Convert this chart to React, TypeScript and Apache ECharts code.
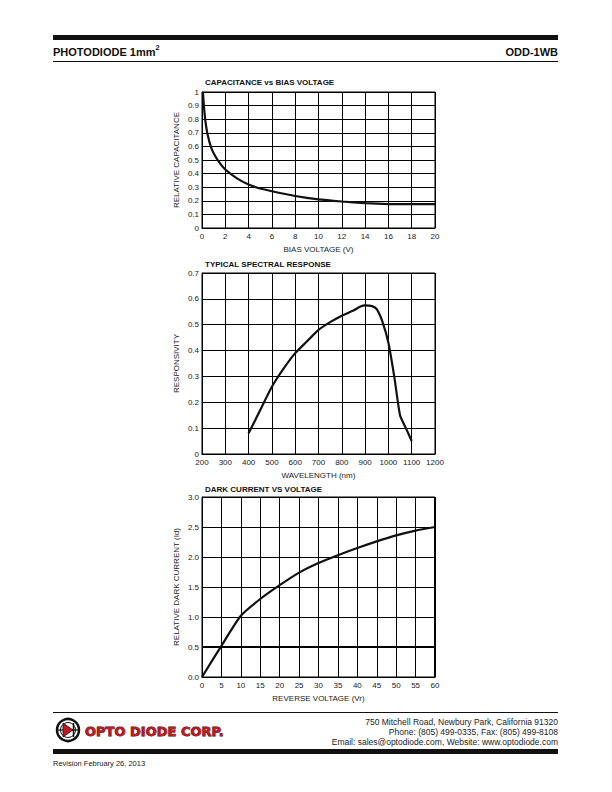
import React, { useEffect, useRef } from "react";
import * as echarts from "echarts";

// Capacitance vs bias voltage
const capX = [0.08, 0.2, 0.35, 0.5, 0.75, 1, 1.5, 2, 3, 4, 5, 6, 8, 10, 12, 14, 16, 18, 20];
const capY = [1.0, 0.86, 0.75, 0.68, 0.6, 0.55, 0.48, 0.43, 0.365, 0.32, 0.29, 0.27, 0.235, 0.21, 0.195, 0.183, 0.176, 0.175, 0.175];

// Spectral response
const specX = [400, 450, 500, 550, 600, 650, 700, 750, 800, 850, 880, 900, 930, 950, 975, 1000, 1025, 1050, 1075, 1100];
const specY = [0.08, 0.17, 0.26, 0.33, 0.39, 0.435, 0.48, 0.51, 0.535, 0.555, 0.57, 0.575, 0.572, 0.56, 0.51, 0.43, 0.3, 0.15, 0.1, 0.05];

// Dark current vs reverse voltage
const darkX = [0, 5, 10, 15, 20, 25, 30, 35, 40, 45, 50, 55, 60];
const darkY = [0, 0.52, 1.02, 1.3, 1.53, 1.74, 1.9, 2.03, 2.15, 2.26, 2.36, 2.44, 2.5];

const titles = ["CAPACITANCE vs BIAS VOLTAGE", "TYPICAL SPECTRAL RESPONSE", "DARK CURRENT VS VOLTAGE"];
const xNames = ["BIAS VOLTAGE (V)", "WAVELENGTH (nm)", "REVERSE VOLTAGE (Vr)"];
const yNames = ["RELATIVE CAPACITANCE", "RESPONSIVITY", "RELATIVE DARK CURRENT (Id)"];
const addressLines = [
  "750 Mitchell Road, Newbury Park, California 91320",
  "Phone: (805) 499-0335, Fax: (805) 499-8108",
  "Email: sales@optodiode.com, Website: www.optodiode.com",
];

const FONT = "'Liberation Sans', Arial, sans-serif";

export default function App() {
  const ref = useRef<HTMLDivElement>(null);
  useEffect(() => {
    if (!ref.current) return;
    const chart = echarts.init(ref.current, null, { renderer: "svg" });
    const grids = [
      { left: 202, top: 92, width: 233, height: 136 },
      { left: 202, top: 273, width: 233, height: 181 },
      { left: 202, top: 497, width: 233, height: 180 },
    ];
    const xCfg = [
      { min: 0, max: 20, interval: 2, fmt: (v: number) => String(v) },
      { min: 200, max: 1200, interval: 100, fmt: (v: number) => String(v) },
      { min: 0, max: 60, interval: 5, fmt: (v: number) => String(v) },
    ];
    const yCfg = [
      { min: 0, max: 1, interval: 0.1, fmt: (v: number) => String(Math.round(v * 10) / 10) },
      { min: 0, max: 0.7, interval: 0.1, fmt: (v: number) => String(Math.round(v * 10) / 10) },
      { min: 0, max: 3, interval: 0.5, fmt: (v: number) => v.toFixed(1) },
    ];
    const datas = [
      capX.map((x, i) => [x, capY[i]]),
      specX.map((x, i) => [x, specY[i]]),
      darkX.map((x, i) => [x, darkY[i]]),
    ];
    const labelStyle = { color: "#222", fontSize: 8, fontFamily: FONT };
    const option: any = {
      animation: false,
      backgroundColor: "#fff",
      grid: grids.map((g) => ({ ...g, show: true, borderColor: "#000", borderWidth: 1, containLabel: false })),
      xAxis: xCfg.map((c, i) => ({
        type: "value",
        gridIndex: i,
        min: c.min,
        max: c.max,
        interval: c.interval,
        name: xNames[i],
        nameLocation: "middle",
        nameGap: 17,
        nameTextStyle: { color: "#222", fontSize: 8, fontFamily: FONT },
        axisLine: { show: true, lineStyle: { color: "#000", width: 1 } },
        axisTick: { show: false },
        axisLabel: { ...labelStyle, margin: 4, formatter: c.fmt },
        splitLine: { show: true, lineStyle: { color: "#000", width: 1 } },
      })),
      yAxis: yCfg.map((c, i) => ({
        type: "value",
        gridIndex: i,
        min: c.min,
        max: c.max,
        interval: c.interval,
        name: yNames[i],
        nameLocation: "middle",
        nameGap: 22,
        nameTextStyle: { color: "#222", fontSize: 8, fontFamily: FONT },
        axisLine: { show: true, lineStyle: { color: "#000", width: 1 } },
        axisTick: { show: false },
        axisLabel: { ...labelStyle, margin: 3, formatter: c.fmt },
        splitLine: { show: true, lineStyle: { color: "#000", width: 1 } },
      })),
      series: datas.map((d, i) => ({
        type: "line",
        xAxisIndex: i,
        yAxisIndex: i,
        data: d,
        showSymbol: false,
        smooth: 0.2,
        lineStyle: { color: "#111", width: 2.2 },
        markLine:
          i === 2
            ? {
                silent: true,
                symbol: "none",
                label: { show: false },
                lineStyle: { color: "#000", width: 2, type: "solid" },
                data: [{ yAxis: 0.5 }, { xAxis: 60 }],
              }
            : undefined,
      })),
      graphic: [
        // header
        { type: "rect", shape: { x: 53, y: 35, width: 505, height: 5 }, style: { fill: "#111" } },
        { type: "text", x: 53, y: 52, style: { text: "PHOTODIODE 1mm", fill: "#111", font: `bold 11px ${FONT}`, textVerticalAlign: "middle" } },
        { type: "text", x: 155.5, y: 47, style: { text: "2", fill: "#111", font: `bold 7.5px ${FONT}`, textVerticalAlign: "middle" } },
        { type: "text", x: 558, y: 52, style: { text: "ODD-1WB", fill: "#111", font: `bold 11px ${FONT}`, textAlign: "right", textVerticalAlign: "middle" } },
        { type: "line", shape: { x1: 53, y1: 61.5, x2: 558, y2: 61.5 }, style: { stroke: "#111", lineWidth: 1 } },
        // chart titles
        ...titles.map((t, i) => ({
          type: "text",
          x: 205,
          y: [82, 264, 489][i],
          style: { text: t, fill: "#111", font: `bold 8px ${FONT}`, textVerticalAlign: "middle" },
        })),
        // footer
        { type: "line", shape: { x1: 53, y1: 712.5, x2: 558, y2: 712.5 }, style: { stroke: "#111", lineWidth: 1 } },
        { type: "circle", shape: { cx: 68, cy: 730, r: 11 }, style: { fill: "#fff", stroke: "#111", lineWidth: 2.5 } },
        { type: "circle", shape: { cx: 68, cy: 730, r: 7.5 }, style: { fill: "#fff", stroke: "#111", lineWidth: 1 } },
        { type: "line", shape: { x1: 58, y1: 730, x2: 78, y2: 730 }, style: { stroke: "#111", lineWidth: 1.2 } },
        { type: "polygon", shape: { points: [[63, 723], [63, 737], [73, 730]] }, style: { fill: "#c4161c", stroke: "#111", lineWidth: 0.8 } },
        { type: "line", shape: { x1: 73.5, y1: 723, x2: 73.5, y2: 737 }, style: { stroke: "#111", lineWidth: 1.5 } },
        {
          type: "text",
          x: 85,
          y: 731,
          style: {
            text: "OPTO DIODE CORP.",
            fill: "#c4161c",
            stroke: "#111",
            lineWidth: 0.8,
            font: `bold 13px 'DejaVu Sans', ${FONT}`,
            textVerticalAlign: "middle",
          },
        },
        ...addressLines.map((t, i) => ({
          type: "text",
          x: 558,
          y: 722 + i * 10,
          style: { text: t, fill: "#222", font: `8.5px ${FONT}`, textAlign: "right", textVerticalAlign: "middle" },
        })),
        { type: "rect", shape: { x: 53, y: 749, width: 505, height: 5 }, style: { fill: "#111" } },
        { type: "text", x: 53, y: 763, style: { text: "Revision February 26, 2013", fill: "#222", font: `7.5px ${FONT}`, textVerticalAlign: "middle" } },
      ],
    };
    chart.setOption(option);
    return () => chart.dispose();
  }, []);
  return <div ref={ref} style={{ position: "fixed", left: 0, top: 0, width: 612, height: 792, background: "#fff" }} />;
}
